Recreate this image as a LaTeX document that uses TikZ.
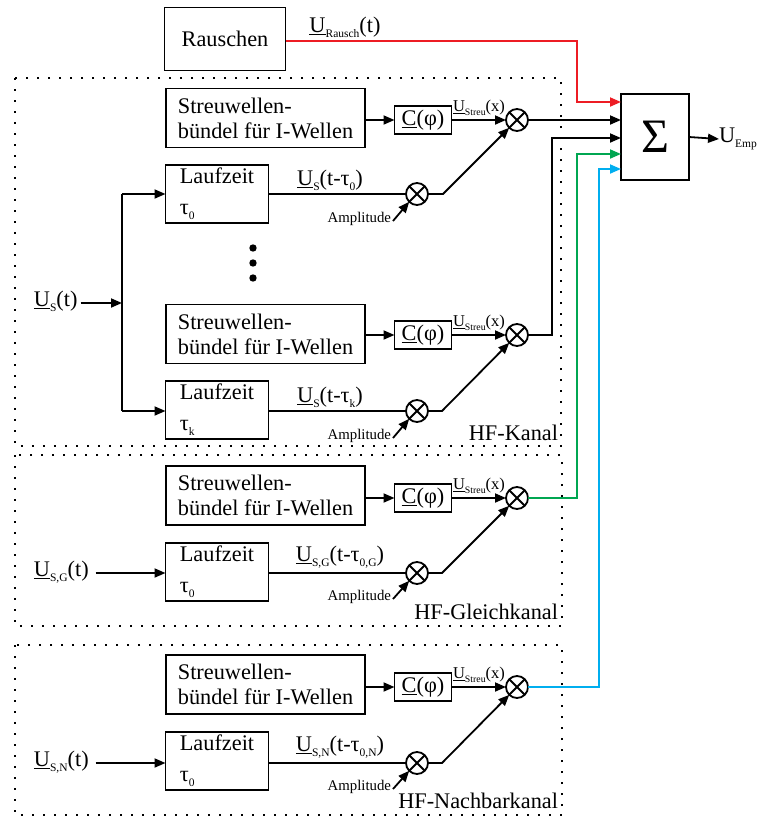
\documentclass[tikz,border=0pt]{standalone}
\usepackage{fontspec}
\setmainfont{Liberation Serif}
\usetikzlibrary{arrows.meta}

\definecolor{sigred}{RGB}{237,28,36}
\definecolor{siggreen}{RGB}{0,166,81}
\definecolor{sigblue}{RGB}{0,174,239}

% text sizes
\newcommand\mainsz{\fontsize{22.3}{25}\selectfont}
\newcommand\ampsz{\fontsize{14.8}{16}\selectfont}
\newcommand\streusz{\fontsize{16.5}{18}\selectfont}
% lowered small index
\newcommand\lo[1]{\raisebox{-0.22em}{\fontsize{11.5}{11.5}\selectfont #1}}
\newcommand\los[1]{\raisebox{-0.2em}{\fontsize{9.8}{10}\selectfont #1}}
\newcommand\ustreu{{\streusz\underline{U}\los{Streu}(x)}}

\begin{document}
\begin{tikzpicture}[x=1pt,y=-1pt,
  line width=1.8pt,
  font=\mainsz,
  every node/.style={inner sep=0pt, outer sep=0pt},
  blockbox/.style={draw, rectangle, line width=1.8pt},
  streubox/.style={blockbox, minimum width=199pt, minimum height=59pt, align=left},
  laufbox/.style={blockbox, minimum width=103pt, minimum height=58pt, align=left},
  cbox/.style={blockbox, minimum width=57pt, minimum height=28pt},
  mult/.style={draw, circle, line width=1.8pt, minimum size=22pt,
    path picture={\draw[line width=1.8pt]
      (path picture bounding box.north west) -- (path picture bounding box.south east)
      (path picture bounding box.north east) -- (path picture bounding box.south west);}},
  arr/.style={-{Triangle[length=11pt,width=9pt]}},
  chanframe/.style={line width=1.8pt, dash pattern=on 1.8pt off 9.2pt},
  amp/.style={font=\ampsz, anchor=east},
]
\useasboundingbox (0,0) rectangle (758,817);

% channel frames
\draw[chanframe] (15,78) rectangle (561,446);
\draw[chanframe] (15,455) rectangle (562,626);
\draw[chanframe] (15,645) rectangle (562,815);

% noise source and summation
\node[blockbox, minimum width=121pt, minimum height=63pt] (rausch) at (225,39) {Rauschen};
\node[blockbox, minimum width=68pt, minimum height=86pt, font=\fontsize{48}{48}\selectfont] (sum) at (655,137) {Σ};
\node[anchor=west] (uemp) at (719,139) {U\lo{Emp}};
\draw[arr] (sum.east) -- (uemp.west);
\node (urausch) at (345,27) {\underline{U}\lo{Rausch}(t)};

% ---------- HF-Kanal ----------
\node[streubox] (sk1) at (265.5,118) {Streuwellen-\\bündel für I-Wellen};
\node[cbox] (ck1) at (423,120) {\underline{C}(φ)};
\node[mult] (mk1) at (517,120) {};
\node[laufbox] (lk0) at (217,194) {Laufzeit\\[6pt]τ\lo{0}};
\node[mult] (mk0) at (417,194) {};
\coordinate (bk0) at (443,194);
\node (uk0) at (330,180) {\underline{U}\lo{S}(t-τ\lo{0})};
\node[amp] (ak0) at (391,219) {Amplitude};
\node (usk1) at (479,108) {\ustreu};

\fill (253,248) circle (3.7pt) (253,263) circle (3.7pt) (253,278) circle (3.7pt);

\node[streubox] (sk2) at (265.5,334) {Streuwellen-\\bündel für I-Wellen};
\node[cbox] (ck2) at (423,335) {\underline{C}(φ)};
\node[mult] (mk2) at (517,335) {};
\node[laufbox] (lkk) at (217,410) {Laufzeit\\[6pt]τ\lo{k}};
\node[mult] (mkk) at (417,411) {};
\coordinate (bkk) at (442,411);
\node (ukk) at (330,397) {\underline{U}\lo{S}(t-τ\lo{k})};
\node[amp] (akk) at (391,436) {Amplitude};
\node (usk2) at (479,323) {\ustreu};

\node[anchor=west] (us) at (34,301) {\underline{U}\lo{S}(t)};
\coordinate (split) at (122,303);
\coordinate (splittop) at (122,194);
\coordinate (splitbot) at (122,411);
\node[anchor=east] (hfk) at (558,433) {HF-Kanal};

\draw[arr] (us.east |- split) ++(3,0) -- (split);
\draw[arr] (splittop) -- (lk0.west |- splittop);
\draw (splittop) -- (splitbot);
\draw[arr] (splitbot) -- (lkk.west |- splitbot);

\draw[arr] (sk1.east |- ck1) -- (ck1.west);
\draw[arr] (ck1.east) -- (mk1.west);
\draw (lk0.east |- mk0) -- (mk0.west);
\draw[arr] (mk0.east) -- (bk0) -- (mk1);
\draw[arr] (ak0.east) ++(2,2) -- (mk0.south west);

\draw[arr] (sk2.east |- ck2) -- (ck2.west);
\draw[arr] (ck2.east) -- (mk2.west);
\draw (lkk.east |- mkk) -- (mkk.west);
\draw[arr] (mkk.east) -- (bkk) -- (mk2);
\draw[arr] (akk.east) ++(2,2) -- (mkk.south west);

% ---------- HF-Gleichkanal ----------
\node[streubox] (sg) at (265.5,495.5) {Streuwellen-\\bündel für I-Wellen};
\node[cbox] (cg) at (423,498) {\underline{C}(φ)};
\node[mult] (mg) at (517,498) {};
\node[laufbox] (lg) at (217,572) {Laufzeit\\[6pt]τ\lo{0}};
\node[mult] (mg0) at (417,573) {};
\coordinate (bg) at (442,573);
\node (ug) at (340,557) {\underline{U}\lo{S,G}(t-τ\lo{0,G})};
\node[amp] (ag) at (391,597) {Amplitude};
\node (usg) at (479,486) {\ustreu};
\node[anchor=west] (usgin) at (34,572) {\underline{U}\lo{S,G}(t)};
\node[anchor=east] (hfg) at (558,612) {HF-Gleichkanal};

\draw[arr] (usgin.east |- mg0) ++(7,0) -- (lg.west |- mg0);
\draw[arr] (sg.east |- cg) -- (cg.west);
\draw[arr] (cg.east) -- (mg.west);
\draw (lg.east |- mg0) -- (mg0.west);
\draw[arr] (mg0.east) -- (bg) -- (mg);
\draw[arr] (ag.east) ++(2,2) -- (mg0.south west);

% ---------- HF-Nachbarkanal ----------
\node[streubox] (sn) at (265.5,684.5) {Streuwellen-\\bündel für I-Wellen};
\node[cbox] (cn) at (423,687) {\underline{C}(φ)};
\node[mult] (mn) at (517,687) {};
\node[laufbox] (ln) at (217,761) {Laufzeit\\[6pt]τ\lo{0}};
\node[mult] (mn0) at (417,763) {};
\coordinate (bn) at (442,763);
\node (un) at (340,747) {\underline{U}\lo{S,N}(t-τ\lo{0,N})};
\node[amp] (an) at (391,787) {Amplitude};
\node (usn) at (479,675) {\ustreu};
\node[anchor=west] (usnin) at (34,762) {\underline{U}\lo{S,N}(t)};
\node[anchor=east] (hfn) at (558,801) {HF-Nachbarkanal};

\draw[arr] (usnin.east |- mn0) ++(7,0) -- (ln.west |- mn0);
\draw[arr] (sn.east |- cn) -- (cn.west);
\draw[arr] (cn.east) -- (mn.west);
\draw (ln.east |- mn0) -- (mn0.west);
\draw[arr] (mn0.east) -- (bn) -- (mn);
\draw[arr] (an.east) ++(2,2) -- (mn0.south west);

% ---------- feeds into the summation ----------
\draw[arr, sigred] (rausch.east |- 0,41) -- (577,41) -- (577,102) -- (sum.west |- 0,102);
\draw[arr] (mk1.east) -- (sum.west |- mk1);
\draw[arr] (mk2.east) -- (552,335) -- (552,138) -- (sum.west |- 0,138);
\draw[arr, siggreen] (mg.east) -- (577,498) -- (577,154) -- (sum.west |- 0,154);
\draw[arr, sigblue] (mn.east) -- (599,687) -- (599,169) -- (sum.west |- 0,169);
\end{tikzpicture}
\end{document}
